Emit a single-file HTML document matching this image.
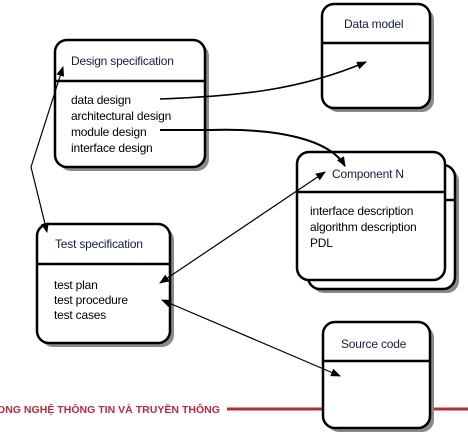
<!DOCTYPE html>
<html><head><meta charset="utf-8"><style>
html,body{margin:0;padding:0;background:#fff;}
body{width:468px;height:440px;position:relative;overflow:hidden;font-family:"Liberation Sans",Arial,sans-serif;}
.t{position:absolute;font-size:12px;color:#000;white-space:nowrap;letter-spacing:-0.2px;}
.h{color:#102040}
</style></head><body>
<svg width="468" height="440" style="position:absolute;left:0;top:0">
<defs>
<marker id="a" markerWidth="10" markerHeight="8" refX="9" refY="4" orient="auto" markerUnits="userSpaceOnUse"><path d="M0,0 L10,4 L0,8 Z" fill="#000"/></marker>
<marker id="b" markerWidth="10" markerHeight="8" refX="1" refY="4" orient="auto" markerUnits="userSpaceOnUse"><path d="M10,0 L0,4 L10,8 Z" fill="#000"/></marker>
</defs>
<line x1="227" y1="409" x2="468" y2="409" stroke="#c0283a" stroke-width="3"/>
<text x="-3" y="413" font-family="Liberation Sans,sans-serif" font-weight="bold" font-size="10.5" fill="#c0283a" textLength="223" lengthAdjust="spacingAndGlyphs">ONG NGHỆ THÔNG TIN VÀ TRUYỀN THÔNG</text>
<g fill="#8a8a8a">
<rect x="59" y="44" width="150" height="127" rx="12"/>
<rect x="41" y="228" width="133" height="119" rx="12"/>
<rect x="326" y="8" width="108" height="104" rx="12"/>
<rect x="312" y="169" width="147" height="124" rx="12"/>
<rect x="327" y="326" width="107" height="106" rx="12"/>
</g>
<g fill="#fff" stroke="#000" stroke-width="2.5">
<rect x="55" y="40" width="150" height="127" rx="12"/>
<rect x="37" y="224" width="133" height="119" rx="12"/>
<rect x="322" y="4" width="108" height="104" rx="12"/>
<rect x="308" y="165" width="147" height="124" rx="12"/>
<rect x="297" y="152" width="148" height="128" rx="12"/>
<rect x="323" y="322" width="107" height="106" rx="12"/>
</g>
<g stroke="#000" stroke-width="2.5">
<line x1="55" y1="81" x2="205" y2="81"/>
<line x1="37" y1="264" x2="170" y2="264"/>
<line x1="322" y1="43" x2="430" y2="43"/>
<line x1="297" y1="192" x2="445" y2="192"/>
<line x1="445" y1="200" x2="455" y2="200"/>
<line x1="323" y1="361" x2="430" y2="361"/>
</g>
<g fill="none" stroke="#000" stroke-width="1.2">
<path d="M160,99 C240,96 300,90 366,62" marker-end="url(#a)" stroke-width="1.5"/>
<path d="M160,130 L210,130 C280,128 330,140 345,166" marker-end="url(#a)" stroke-width="2"/>
<path d="M31,167 L63,67" marker-end="url(#a)"/>
<path d="M31,167 L47,232" marker-end="url(#a)"/>
<line x1="160" y1="283" x2="325" y2="172" marker-start="url(#b)" marker-end="url(#a)"/>
<line x1="162" y1="300" x2="340" y2="376" marker-start="url(#b)" marker-end="url(#a)"/>
</g>
</svg>
<div class="t h" style="left:71px;top:54px;">Design specification</div>
<div class="t" style="left:71px;top:92px;line-height:16px;">data design<br>architectural design<br>module design<br>interface design</div>
<div class="t h" style="left:55px;top:237px;">Test specification</div>
<div class="t" style="left:54px;top:278px;line-height:15px;">test plan<br>test procedure<br>test cases</div>
<div class="t h" style="left:344px;top:17px;">Data model</div>
<div class="t h" style="left:332px;top:167px;">Component N</div>
<div class="t" style="left:310px;top:203px;line-height:16px;">interface description<br>algorithm description<br>PDL</div>
<div class="t h" style="left:341px;top:337px;">Source code</div>
</body></html>
